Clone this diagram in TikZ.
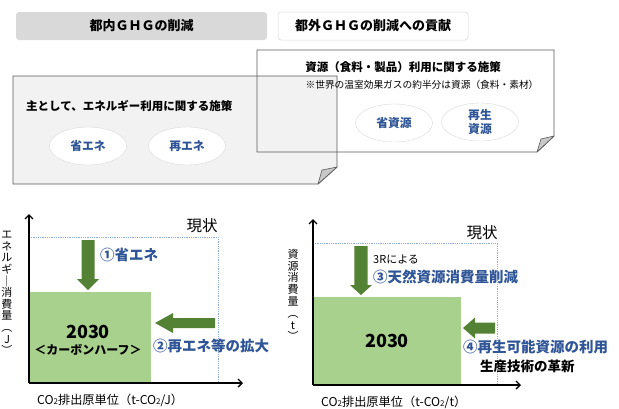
\documentclass[tikz,border=0pt]{standalone}
\usepackage{fontspec}
\setmainfont{Noto Sans CJK JP}
\usetikzlibrary{arrows.meta,shapes.geometric}
\definecolor{hdrgray}{HTML}{D9D9D9}
\definecolor{panelgray}{HTML}{F2F2F2}
\definecolor{edgegray}{HTML}{595959}
\definecolor{flapgray}{HTML}{C8C8C8}
\definecolor{bluetxt}{HTML}{2F5597}
\definecolor{arrgreen}{HTML}{548235}
\definecolor{boxgreen}{HTML}{A9D18E}
\definecolor{dotblue}{HTML}{8FAADC}
\newcommand\fs[1]{\fontsize{#1}{#1}\selectfont}
\newcommand\fsl[2]{\fontsize{#1}{#2}\selectfont}
\begin{document}
\begin{tikzpicture}[x=1pt,y=-1pt,
  hdr/.style={rounded corners=3pt, minimum height=28, inner sep=0, font={\fs{13}\bfseries}},
  panel/.style={draw=edgegray, line width=0.9pt},
  flap/.style={fill=flapgray, draw=edgegray, line width=0.6pt, line join=round},
  oval/.style={ellipse, draw=hdrgray, fill=white, minimum width=77, minimum height=38, inner sep=0, font={\fsl{11.8}{14}\bfseries}, text=bluetxt, align=center},
  ttl/.style={font={\fs{11.5}\bfseries}, inner sep=0},
  blue/.style={font={\fs{14.5}\bfseries}, text=bluetxt, inner sep=0, anchor=west},
  axis/.style={line width=1.4pt, -{Straight Barb[length=4pt,width=8pt]}},
  dotline/.style={draw=dotblue, densely dotted, line width=0.8pt},
  gbox/.style={fill=boxgreen, inner sep=0, anchor=north west},
  garrow/.style={fill=arrgreen},
  vlab/.style={align=center, inner sep=0},
  xlab/.style={font={\fs{12.2}}, inner sep=0, anchor=west},
  now/.style={font={\fs{15.5}}, inner sep=0}
]
\useasboundingbox (0,0) rectangle (619,408);

% header boxes
\node[hdr, fill=hdrgray, minimum width=251] (h1) at (141.5,26) {都内ＧＨＧの削減};
\node[hdr, fill=white, draw=hdrgray, line width=0.5pt, minimum width=190] (h2) at (373,26) {都外ＧＨＧの削減への貢献};

% left panel
\path[fill=panelgray] (13,76) -- (337,76) -- (337,167) -- (318,184) -- (13,184) -- cycle;
\draw[panel] (13,76) -- (337,76) -- (337,167) -- (318,184) -- (13,184) -- cycle;
\draw[flap] (318,184) -- (322,170) -- (337,167) -- cycle;
% right panel
\draw[panel] (257,50) -- (554,50) -- (554,136) -- (537,152) -- (257,152) -- cycle;
\draw[flap] (537,152) -- (541,139) -- (554,136) -- cycle;

\node[ttl, anchor=west] (t1) at (26,106) {主として、エネルギー利用に関する施策};
\node[oval] (e1) at (88,146) {省エネ};
\node[oval] (e2) at (187,146) {再エネ};

\node[ttl] (t2) at (403,67) {資源（食料・製品）利用に関する施策};
\node[font={\fs{9.7}}, inner sep=0] (n2) at (422,85) {※世界の温室効果ガスの約半分は資源（食料・素材）};
\node[oval] (e3) at (394,123) {省資源};
\node[oval] (e4) at (480,122) {再生\\資源};

% ---------- left chart
\coordinate (o1) at (29,383);
\coordinate (yt1) at (29,214);
\coordinate (xt1) at (243,383);
\draw[dotline] (29,237) -- (218,237) -- (218,383);
\node[gbox, minimum width=122, minimum height=91] (g1) at (29,292) {};
\draw[axis] (o1) -- (yt1);
\draw[axis] (o1) -- (xt1);
\node[now] (s1) at (202,226) {現状};
\node[font={\fs{18}\bfseries}, inner sep=0] (y1) at (88,332) {2030};
\node[font={\fs{12}\bfseries}, inner sep=0] (c1) at (88,350) {＜カーボンハーフ＞};
\fill[garrow] (81.5,240) -- (94.5,240) -- (94.5,279) -- (99,279) -- (88,290) -- (77,279) -- (81.5,279) -- cycle;
\fill[garrow] (215,318) -- (173,318) -- (173,313) -- (155,323) -- (173,333) -- (173,328) -- (215,328) -- cycle;
\node[blue] (b1) at (100,255) {①省エネ};
\node[blue] (b2) at (153,346) {②再エネ等の拡大};
\node[vlab, font={\fsl{11}{11.6}}] (v1) at (7,293) {エ\\ネ\\ル\\ギ\\｜\\消\\費\\量\\︵\\J\\︶};
\node[xlab] (x1) at (37,400) {CO{\fs{8}2}排出原単位（t-CO{\fs{8}2}/J）};

% ---------- right chart
\coordinate (o2) at (313,385);
\coordinate (yt2) at (313,219);
\coordinate (xt2) at (521,385);
\draw[dotline] (313,243) -- (497,243) -- (497,385);
\node[gbox, minimum width=148, minimum height=88] (g2) at (313,297) {};
\draw[axis] (o2) -- (yt2);
\draw[axis] (o2) -- (xt2);
\node[now] (s2) at (482,233) {現状};
\node[font={\fs{18}\bfseries}, inner sep=0] (y2) at (387,341) {2030};
\fill[garrow] (354.3,246) -- (367.7,246) -- (367.7,285) -- (372,285) -- (361,295) -- (350,285) -- (354.3,285) -- cycle;
\fill[garrow] (495,322.5) -- (475,322.5) -- (475,317.5) -- (463,328) -- (475,338.5) -- (475,333.5) -- (495,333.5) -- cycle;
\node[font={\fs{11}}, inner sep=0, anchor=west] (r3) at (373,259) {3Rによる};
\node[blue] (b3) at (373,277) {③天然資源消費量削減};
\node[blue] (b4) at (463,347) {④再生可能資源の利用};
\node[font={\fs{13.5}\bfseries}, inner sep=0, anchor=west] (p4) at (480,366) {生産技術の革新};
\node[vlab, font={\fsl{11}{11.8}}] (v2) at (293,295) {資\\源\\消\\費\\量\\︵\\t\\︶};
\node[xlab] (x2) at (321,402) {CO{\fs{8}2}排出原単位（t-CO{\fs{8}2}/t）};
\end{tikzpicture}
\end{document}
